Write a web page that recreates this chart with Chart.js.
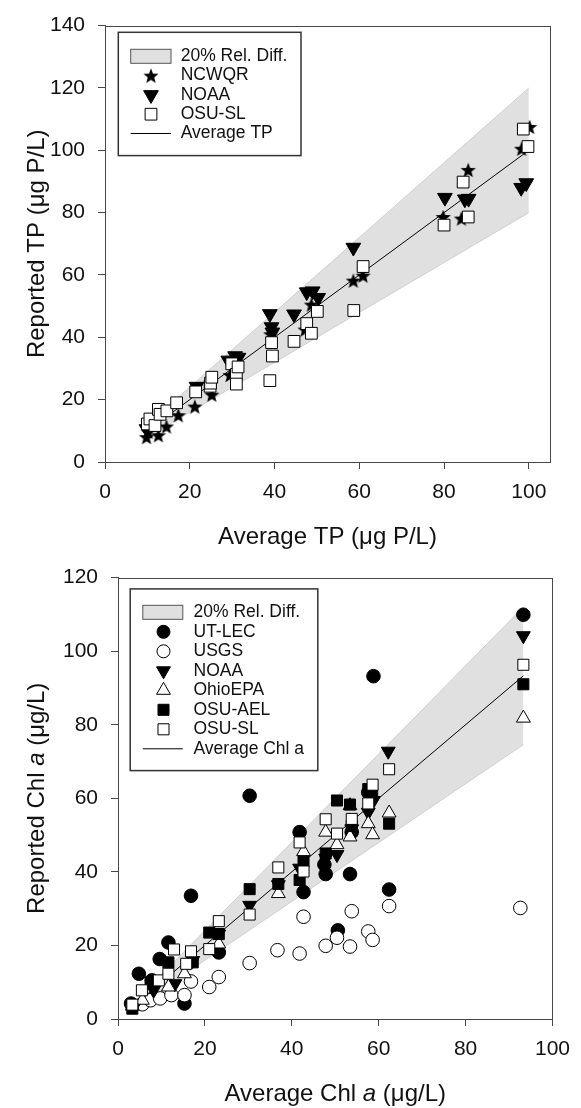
<!DOCTYPE html>
<html>
<head>
<meta charset="utf-8">
<title>Reported vs average TP and Chl a</title>
<script src="https://cdn.jsdelivr.net/npm/chart.js@4.4.1/dist/chart.umd.min.js"></script>
<style>
  html, body { margin: 0; padding: 0; background: #fff; }
  canvas { display: block; }
</style>
</head>
<body>
<canvas id="tpChart" width="581" height="552"></canvas>
<canvas id="chlChart" width="581" height="556"></canvas>
<script>
// ---- TP panel data (x = average TP, y = reported TP) ----
const tpXTicks = [0, 20, 40, 60, 80, 100];
const tpYTicks = [0, 20, 40, 60, 80, 100, 120, 140];

const ncwqrX = [9.8, 10.2, 12.6, 14.5, 17.3, 21.2, 25.2, 29.5, 39.1, 47.2, 48.7, 58.6, 60.9, 79.8, 84.1, 85.7, 98.3, 100.2];
const ncwqrY = [8.0, 9.7, 8.6, 11.4, 15.0, 17.8, 21.6, 27.9, 41.0, 42.5, 50.5, 58.2, 59.8, 78.6, 78.1, 93.7, 100.5, 107.5];

const tpNoaaX = [9.8, 21.6, 29.1, 30.7, 31.5, 38.9, 39.3, 39.5, 44.6, 47.6, 49.0, 50.3, 58.6, 80.2, 84.9, 85.8, 98.2, 99.4];
const tpNoaaY = [10.6, 24.2, 32.6, 34.0, 33.5, 47.5, 43.3, 41.6, 47.4, 54.5, 54.8, 52.7, 68.8, 84.8, 84.3, 84.5, 88.0, 89.5];

const tpOsuX = [10.0, 10.6, 11.8, 12.6, 13.0, 14.6, 16.9, 21.4, 24.8, 24.9, 25.2, 29.9, 31.0, 31.4, 31.0, 38.9, 39.3, 39.5, 44.6, 47.6, 48.7, 50.1, 58.7, 60.9, 80.0, 84.5, 85.7, 98.7, 99.8];
const tpOsuY = [12.2, 13.8, 11.7, 16.9, 15.3, 16.4, 19.0, 22.5, 24.3, 25.3, 27.2, 31.5, 28.1, 30.5, 25.0, 26.1, 38.3, 34.0, 38.7, 44.4, 41.3, 48.3, 48.6, 62.7, 76.0, 89.8, 78.6, 106.8, 101.2];

const tpAvgX = [9.8, 100];
const tpAvgY = [9.8, 100];
const tpBandX = [9.8, 100];
const tpBandHi = [11.8, 120];
const tpBandLo = [7.8, 80];

// ---- Chl a panel data (x = average Chl a, y = reported Chl a) ----
const chlXTicks = [0, 20, 40, 60, 80, 100];
const chlYTicks = [0, 20, 40, 60, 80, 100, 120];

const utlecX = [3.0, 4.8, 7.8, 9.6, 11.6, 15.3, 16.8, 23.2, 30.3, 41.8, 42.7, 47.5, 47.8, 50.6, 53.4, 53.8, 57.6, 58.8, 62.4, 93.3];
const utlecY = [4.2, 12.3, 10.5, 16.3, 20.8, 4.2, 33.5, 18.1, 60.7, 50.8, 34.5, 42.0, 39.4, 24.1, 39.4, 50.8, 61.6, 93.2, 35.2, 109.9];

const usgsX = [3.3, 5.6, 7.5, 9.7, 12.3, 15.3, 16.8, 21.0, 23.2, 30.3, 36.7, 41.8, 42.7, 47.8, 50.4, 53.4, 53.8, 57.6, 58.6, 62.4, 92.6];
const usgsY = [3.5, 4.0, 5.1, 5.6, 6.5, 6.5, 10.2, 8.7, 11.4, 15.2, 18.7, 17.8, 27.8, 19.9, 22.1, 19.7, 29.3, 23.8, 21.5, 30.7, 30.2];

const chlNoaaX = [4.1, 8.2, 13.1, 17.2, 23.2, 30.3, 36.9, 41.8, 47.8, 50.4, 53.8, 57.6, 58.8, 62.2, 93.3];
const chlNoaaY = [4.2, 7.8, 9.6, 15.9, 23.1, 30.9, 36.5, 41.0, 43.7, 44.7, 51.7, 56.2, 59.4, 72.8, 104.2];

const ohioX = [3.3, 5.6, 11.6, 15.3, 23.2, 36.9, 42.7, 47.8, 50.4, 53.4, 53.4, 57.6, 58.6, 62.4, 93.3];
const ohioY = [3.5, 5.1, 8.7, 12.3, 20.4, 34.1, 45.5, 50.8, 47.4, 49.5, 58.0, 53.1, 50.1, 56.0, 81.8];

const osuAelX = [3.3, 7.5, 11.6, 17.2, 21.0, 23.2, 30.3, 36.9, 41.8, 42.7, 47.8, 50.4, 53.4, 53.8, 57.6, 58.5, 62.4, 93.3];
const osuAelY = [2.8, 10.0, 15.4, 15.4, 23.5, 23.1, 35.3, 36.7, 37.8, 42.8, 45.0, 59.4, 58.3, 52.5, 62.5, 61.0, 53.1, 91.0];

const chlOsuX = [3.3, 5.5, 9.4, 11.6, 12.9, 15.7, 16.8, 21.0, 23.2, 30.3, 36.9, 41.8, 42.7, 47.8, 50.4, 53.8, 57.6, 58.6, 62.4, 93.3];
const chlOsuY = [3.9, 7.8, 10.5, 12.3, 18.9, 15.0, 18.4, 19.0, 26.6, 28.4, 41.2, 48.0, 40.1, 54.3, 50.4, 54.4, 58.6, 63.7, 67.9, 96.3];

const chlAvgX = [3.3, 93.3];
const chlAvgY = [3.3, 93.3];
const chlBandX = [3.3, 93.3];
const chlBandHi = [4.0, 112.0];
const chlBandLo = [2.6, 74.6];

// ---- look ----
const fontFamily = "'Liberation Sans', Arial, Helvetica, sans-serif";
const axisColor = '#474747';
const inkColor = '#111';
const bandFill = '#e0e0e0';
const bandEdge = '#cfcfcf';

Chart.defaults.font.family = fontFamily;
Chart.defaults.color = inkColor;

function pts(xs, ys) {
    return xs.map(function (x, i) { return { x: x, y: ys[i] }; });
}

// filled five point star used as a point style
function makeStar(r) {
    const c = document.createElement('canvas');
    const s = Math.ceil(r * 2 + 2);
    c.width = s;
    c.height = s;
    const g = c.getContext('2d');
    g.translate(s / 2, s / 2 + r * 0.1);
    g.beginPath();
    for (let k = 0; k < 10; k++) {
        const rad = k % 2 === 0 ? r : r * 0.42;
        const a = -Math.PI / 2 + k * Math.PI / 5;
        g.lineTo(rad * Math.cos(a), rad * Math.sin(a));
    }
    g.closePath();
    g.fillStyle = '#000';
    g.fill();
    return c;
}
const starImg = makeStar(8);

function markerSet(label, xs, ys, style, fill, radius, rotation, order) {
    return {
        type: 'scatter',
        label: label,
        data: pts(xs, ys),
        pointStyle: style,
        pointRadius: radius,
        pointRotation: rotation,
        pointBackgroundColor: fill,
        pointBorderColor: '#000',
        pointBorderWidth: 1,
        showLine: false,
        clip: false,
        order: order
    };
}

function bandSets(bx, hi, lo) {
    return [
        { type: 'line', label: 'band-hi', data: pts(bx, hi), borderColor: bandEdge, borderWidth: 1,
          backgroundColor: bandFill, fill: '+1', pointRadius: 0, order: 20 },
        { type: 'line', label: 'band-lo', data: pts(bx, lo), borderColor: bandEdge, borderWidth: 1,
          fill: false, pointRadius: 0, order: 19 }
    ];
}

function avgSet(xs, ys) {
    return { type: 'line', label: 'average', data: pts(xs, ys), borderColor: '#000', borderWidth: 1,
             fill: false, pointRadius: 0, order: 15 };
}

function scalesFor(xMax, yMax, xTicks, yTicks, yWidth, xHeight) {
    return {
        x: {
            type: 'linear', min: 0, max: xMax,
            afterBuildTicks: function (s) { s.ticks = xTicks.map(function (v) { return { value: v }; }); },
            afterFit: function (s) { s.height = xHeight; },
            border: { color: axisColor, width: 1 },
            grid: { drawOnChartArea: false, drawTicks: true, tickLength: 7, color: axisColor },
            ticks: { font: { size: 21 }, padding: 11, maxRotation: 0, autoSkip: false, color: inkColor }
        },
        y: {
            type: 'linear', min: 0, max: yMax,
            afterBuildTicks: function (s) { s.ticks = yTicks.map(function (v) { return { value: v }; }); },
            afterFit: function (s) { s.width = yWidth; },
            border: { color: axisColor, width: 1 },
            grid: { drawOnChartArea: false, drawTicks: true, tickLength: 7, color: axisColor },
            ticks: { font: { size: 21 }, padding: 13, autoSkip: false, color: inkColor }
        }
    };
}

// box round the plot area
const framePlugin = {
    id: 'frame',
    afterDraw: function (chart) {
        const a = chart.chartArea, ctx = chart.ctx;
        ctx.save();
        ctx.strokeStyle = axisColor;
        ctx.lineWidth = 1;
        ctx.strokeRect(Math.round(a.left) + 0.5, Math.round(a.top) + 0.5,
                       Math.round(a.right - a.left), Math.round(a.bottom - a.top));
        ctx.restore();
    }
};

// text with italic pieces, centred on (cx, cy) baseline
function richText(ctx, parts, cx, cy, angle) {
    ctx.save();
    ctx.translate(cx, cy);
    ctx.rotate(angle);
    ctx.textBaseline = 'alphabetic';
    ctx.textAlign = 'left';
    ctx.fillStyle = inkColor;
    let total = 0;
    parts.forEach(function (p) {
        ctx.font = (p.italic ? 'italic ' : '') + '24px ' + fontFamily;
        total += ctx.measureText(p.text).width;
    });
    let x = -total / 2;
    parts.forEach(function (p) {
        ctx.font = (p.italic ? 'italic ' : '') + '24px ' + fontFamily;
        ctx.fillText(p.text, x, 0);
        x += ctx.measureText(p.text).width;
    });
    ctx.restore();
}

function titlePlugin(xParts, yParts) {
    return {
        id: 'axisTitles',
        afterDraw: function (chart) {
            const a = chart.chartArea;
            richText(chart.ctx, xParts, (a.left + a.right) / 2, a.bottom + 82, 0);
            richText(chart.ctx, yParts, 44, (a.top + a.bottom) / 2, -Math.PI / 2);
        }
    };
}

function drawMarker(ctx, m, x, y) {
    if (m.kind === 'star') {
        ctx.drawImage(starImg, x - starImg.width / 2, y - starImg.height / 2);
        return;
    }
    ctx.save();
    ctx.fillStyle = m.fill;
    ctx.strokeStyle = '#000';
    ctx.lineWidth = 1;
    ctx.beginPath();
    if (m.kind === 'circle') {
        ctx.arc(x, y, m.r, 0, Math.PI * 2);
    } else if (m.kind === 'rect') {
        const h = m.r * Math.SQRT1_2;
        ctx.rect(x - h, y - h, 2 * h, 2 * h);
    } else {
        const s = m.kind === 'up' ? -1 : 1;
        ctx.moveTo(x, y + s * m.r);
        ctx.lineTo(x + m.r * 0.866, y - s * m.r / 2);
        ctx.lineTo(x - m.r * 0.866, y - s * m.r / 2);
        ctx.closePath();
    }
    ctx.fill();
    ctx.stroke();
    ctx.restore();
}

// framed legend inside the plot area
function legendPlugin(rows, box) {
    return {
        id: 'boxLegend',
        afterDraw: function (chart) {
            const ctx = chart.ctx, a = chart.chartArea;
            const left = a.left + box.dx, top = a.top + box.dy;
            ctx.save();
            ctx.fillStyle = '#fff';
            ctx.fillRect(left, top, box.w, box.h);
            ctx.strokeStyle = '#333';
            ctx.lineWidth = 1.5;
            ctx.strokeRect(left, top, box.w, box.h);
            rows.forEach(function (row, i) {
                const cy = top + box.first + i * box.step;
                if (row.kind === 'band') {
                    ctx.fillStyle = bandFill;
                    ctx.strokeStyle = '#555';
                    ctx.lineWidth = 1;
                    ctx.fillRect(left + box.sw0, cy - 7, box.sw, 14);
                    ctx.strokeRect(left + box.sw0, cy - 7, box.sw, 14);
                } else if (row.kind === 'line') {
                    ctx.strokeStyle = '#000';
                    ctx.lineWidth = 1;
                    ctx.beginPath();
                    ctx.moveTo(left + box.sw0, cy);
                    ctx.lineTo(left + box.sw0 + box.sw, cy);
                    ctx.stroke();
                } else {
                    drawMarker(ctx, row, left + box.symbol, cy);
                }
                ctx.font = '17.5px ' + fontFamily;
                ctx.textBaseline = 'middle';
                ctx.textAlign = 'left';
                ctx.fillStyle = inkColor;
                ctx.fillText(row.label, left + box.text, cy);
            });
            ctx.restore();
        }
    };
}

// ---- TP chart ----
new Chart(document.getElementById('tpChart'), {
    type: 'scatter',
    data: {
        datasets: bandSets(tpBandX, tpBandHi, tpBandLo).concat([
            avgSet(tpAvgX, tpAvgY),
            markerSet('NCWQR', ncwqrX, ncwqrY, starImg, '#000', 8, 0, 3),
            markerSet('NOAA', tpNoaaX, tpNoaaY, 'triangle', '#000', 8.5, 180, 2),
            markerSet('OSU-SL', tpOsuX, tpOsuY, 'rect', '#fff', 8.3, 0, 1)
        ])
    },
    options: {
        responsive: false,
        animation: false,
        devicePixelRatio: 1,
        layout: { padding: { left: 0, right: 31, top: 16, bottom: 0 } },
        plugins: { legend: { display: false }, tooltip: { enabled: false } },
        scales: scalesFor(105, 140, tpXTicks, tpYTicks, 105, 90)
    },
    plugins: [
        framePlugin,
        titlePlugin(
            [{ text: 'Average TP (\u03bcg P/L)' }],
            [{ text: 'Reported TP (\u03bcg P/L)' }]
        ),
        legendPlugin([
            { kind: 'band', label: '20% Rel. Diff.' },
            { kind: 'star', label: 'NCWQR' },
            { kind: 'down', fill: '#000', r: 8.5, label: 'NOAA' },
            { kind: 'rect', fill: '#fff', r: 8.3, label: 'OSU-SL' },
            { kind: 'line', label: 'Average TP' }
        ], { dx: 13.3, dy: 6.7, w: 182.7, h: 123.3, first: 24, step: 19.3,
             symbol: 32.7, text: 62.4, sw0: 12.4, sw: 40.3 })
    ]
});

// ---- Chl a chart ----
new Chart(document.getElementById('chlChart'), {
    type: 'scatter',
    data: {
        datasets: bandSets(chlBandX, chlBandHi, chlBandLo).concat([
            avgSet(chlAvgX, chlAvgY),
            markerSet('UT-LEC', utlecX, utlecY, 'circle', '#000', 6.8, 0, 6),
            markerSet('USGS', usgsX, usgsY, 'circle', '#fff', 6.8, 0, 5),
            markerSet('NOAA', chlNoaaX, chlNoaaY, 'triangle', '#000', 8, 180, 4),
            markerSet('OhioEPA', ohioX, ohioY, 'triangle', '#fff', 8, 0, 3),
            markerSet('OSU-AEL', osuAelX, osuAelY, 'rect', '#000', 7.8, 0, 2),
            markerSet('OSU-SL', chlOsuX, chlOsuY, 'rect', '#fff', 7.8, 0, 1)
        ])
    },
    options: {
        responsive: false,
        animation: false,
        devicePixelRatio: 1,
        layout: { padding: { left: 0, right: 18, top: 21, bottom: 0 } },
        plugins: { legend: { display: false }, tooltip: { enabled: false } },
        scales: scalesFor(100, 120, chlXTicks, chlYTicks, 118, 89)
    },
    plugins: [
        framePlugin,
        titlePlugin(
            [{ text: 'Average Chl ' }, { text: 'a', italic: true }, { text: ' (\u03bcg/L)' }],
            [{ text: 'Reported Chl ' }, { text: 'a', italic: true }, { text: ' (\u03bcg/L)' }]
        ),
        legendPlugin([
            { kind: 'band', label: '20% Rel. Diff.' },
            { kind: 'circle', fill: '#000', r: 6.5, label: 'UT-LEC' },
            { kind: 'circle', fill: '#fff', r: 6.5, label: 'USGS' },
            { kind: 'down', fill: '#000', r: 8, label: 'NOAA' },
            { kind: 'up', fill: '#fff', r: 8, label: 'OhioEPA' },
            { kind: 'rect', fill: '#000', r: 7.8, label: 'OSU-AEL' },
            { kind: 'rect', fill: '#fff', r: 7.8, label: 'OSU-SL' },
            { kind: 'line', label: 'Average Chl a' }
        ], { dx: 12.2, dy: 11.3, w: 187.6, h: 181.7, first: 23.4, step: 19.5,
             symbol: 33.3, text: 63.3, sw0: 12.6, sw: 40 })
    ]
});
</script>
</body>
</html>
